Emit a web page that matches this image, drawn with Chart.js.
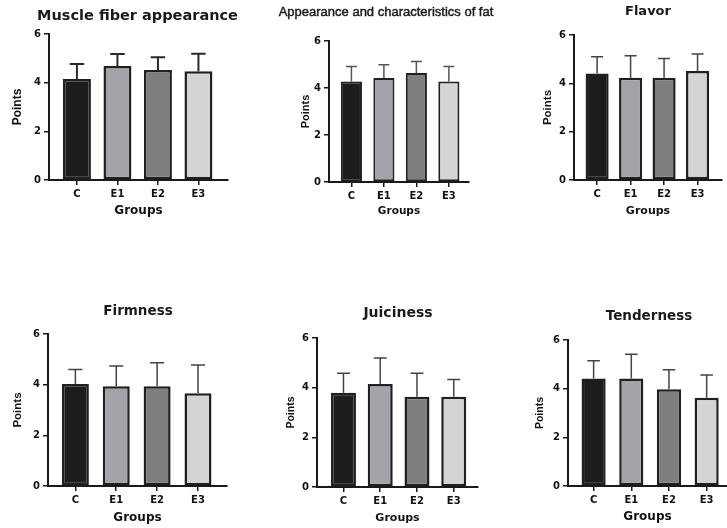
<!DOCTYPE html>
<html>
<head>
<meta charset="utf-8">
<script src="https://cdn.jsdelivr.net/npm/chart.js@4/dist/chart.umd.min.js"></script>
<style>
  html, body { margin: 0; padding: 0; background: #fff; }
  body { width: 727px; height: 528px; position: relative; overflow: hidden; }
  canvas { position: absolute; }
</style>
</head>
<body>
<script>
// categories and axis ticks
const groups = ['C', 'E1', 'E2', 'E3'];
const yTicks = [0, 2, 4, 6];

// means and upper SD
const muscleMean = [4.15, 4.68, 4.52, 4.47];
const muscleSd = [0.62, 0.5, 0.52, 0.72];
const fatMean = [4.28, 4.43, 4.64, 4.28];
const fatSd = [0.64, 0.56, 0.49, 0.64];
const flavorMean = [4.41, 4.23, 4.23, 4.51];
const flavorSd = [0.69, 0.91, 0.8, 0.7];
const firmMean = [4.03, 3.94, 3.94, 3.66];
const firmSd = [0.57, 0.8, 0.93, 1.12];
const juicyMean = [3.8, 4.15, 3.63, 3.63];
const juicySd = [0.78, 1.04, 0.95, 0.7];
const tenderMean = [4.42, 4.42, 3.98, 3.63];
const tenderSd = [0.73, 0.99, 0.8, 0.93];

const barColors = ['#1d1d1d', '#a3a3a9', '#7e7e7e', '#d4d4d4'];
const ink = '#1a1a1a';

const DV = 'DejaVu Sans';
const LS = 'Liberation Sans';

// area = [left, top, right, bottom] of the plot area in page pixels
const panels = [
  { title: 'Muscle fiber appearance', mean: muscleMean, sd: muscleSd,
    area: [49, 34, 228, 180], titleX: 137.5, titleY: 16, pointsX: 18, groupsY: 211,
    range: [-0.69, 3.73], barPct: 0.69, border: 2.5, errColor: '#2b2b2b', errWidth: 2,
    titleFont: 'bold 14.5px "DejaVu Sans"', groupsSize: 12, pointsSize: 12 },
  { title: 'Appearance and characteristics of fat', mean: fatMean, sd: fatSd,
    area: [329, 41, 469, 182], titleX: 386, titleY: 12, pointsX: 305.5, groupsY: 211,
    range: [-0.69, 3.62], barPct: 0.65, border: 2, errColor: '#555', errWidth: 1.5,
    titleFont: '13px "Liberation Sans"', titleStroke: 0.45, groupsSize: 10.5, pointsSize: 11 },
  { title: 'Flavor', mean: flavorMean, sd: flavorSd,
    area: [574, 35, 722, 180], titleX: 648, titleY: 12, pointsX: 548, groupsY: 211,
    range: [-0.69, 3.73], barPct: 0.69, border: 2.5, errColor: '#444', errWidth: 1.5,
    titleFont: 'bold 13px "DejaVu Sans"', groupsSize: 11, pointsSize: 11.5 },
  { title: 'Firmness', mean: firmMean, sd: firmSd,
    area: [48, 334, 227, 486], titleX: 138, titleY: 311, pointsX: 18, groupsY: 518,
    range: [-0.67, 3.71], barPct: 0.66, border: 2.5, errColor: '#444', errWidth: 1.5,
    titleFont: 'bold 13.5px "DejaVu Sans"', groupsSize: 12, pointsSize: 11.5 },
  { title: 'Juiciness', mean: juicyMean, sd: juicySd,
    area: [317, 338, 478, 487], titleX: 398, titleY: 313, pointsX: 291, groupsY: 518,
    range: [-0.72, 3.66], barPct: 0.68, border: 2.5, errColor: '#444', errWidth: 1.5,
    titleFont: 'bold 14px "DejaVu Sans"', groupsSize: 11, pointsSize: 10.5 },
  { title: 'Tenderness', mean: tenderMean, sd: tenderSd,
    area: [568, 340, 727, 486], titleX: 649, titleY: 316, pointsX: 540, groupsY: 517,
    range: [-0.68, 3.54], barPct: 0.64, border: 2.5, errColor: '#444', errWidth: 1.5,
    titleFont: 'bold 13.5px "DejaVu Sans"', groupsSize: 12, pointsSize: 10.5 },
];

// up-only SD whiskers with a cap
const errorBars = {
  id: 'errorBars',
  afterDatasetsDraw(chart, args, opts) {
    const { ctx, scales: { y } } = chart;
    const meta = chart.getDatasetMeta(0);
    ctx.save();
    ctx.strokeStyle = opts.color;
    ctx.lineWidth = opts.width;
    meta.data.forEach((bar, i) => {
      const top = y.getPixelForValue(opts.mean[i] + opts.sd[i]);
      const half = bar.width * 0.26;
      ctx.beginPath();
      ctx.moveTo(bar.x, bar.y);
      ctx.lineTo(bar.x, top);
      ctx.moveTo(bar.x - half, top);
      ctx.lineTo(bar.x + half, top);
      ctx.stroke();
    });
    ctx.restore();
  },
};

const panelTitle = {
  id: 'panelTitle',
  afterDraw(chart, args, opts) {
    const { ctx } = chart;
    ctx.save();
    ctx.font = opts.font;
    ctx.fillStyle = opts.color;
    ctx.textAlign = 'center';
    ctx.textBaseline = 'middle';
    ctx.fillText(opts.text, opts.x, opts.y);
    if (opts.stroke) {
      // the fat title is a touch heavier than regular
      ctx.strokeStyle = opts.color;
      ctx.lineWidth = opts.stroke;
      ctx.strokeText(opts.text, opts.x, opts.y);
    }
    ctx.restore();
  },
};

function renderPanel(p) {
  const [l, t, r, b] = p.area;
  // canvas wide enough for the title on both sides
  const cl = Math.max(0, Math.round(Math.min(p.pointsX - 12, p.titleX - 125)));
  const ct = Math.round(p.titleY - 14);
  const cr = Math.min(727, Math.round(Math.max(r + 4, p.titleX + 125)));
  const cb = Math.round(p.groupsY + 10);

  const canvas = document.createElement('canvas');
  canvas.width = cr - cl;
  canvas.height = cb - ct;
  canvas.style.left = cl + 'px';
  canvas.style.top = ct + 'px';
  document.body.appendChild(canvas);

  const pointsLh = p.pointsSize * 1.2;
  const groupsLh = p.groupsSize * 1.2;
  const tickFont = { family: DV, size: 10, weight: 'bold' };

  return new Chart(canvas, {
    type: 'bar',
    data: {
      datasets: [{
        data: groups.map((g, i) => ({ x: i, y: p.mean[i] })),
        backgroundColor: barColors,
        borderColor: '#202020',
        borderWidth: p.border,
        borderSkipped: false,
        barPercentage: p.barPct,
        categoryPercentage: 1,
      }],
    },
    options: {
      responsive: false,
      animation: false,
      events: [],
      layout: { padding: { top: t - ct, right: cr - r, left: 0, bottom: 0 } },
      scales: {
        x: {
          type: 'linear',
          bounds: 'data',
          offset: false,
          min: p.range[0],
          max: p.range[1],
          afterBuildTicks: (s) => { s.ticks = groups.map((g, i) => ({ value: i })); },
          afterFit: (s) => { s.height = cb - b; },
          grid: { offset: false, drawOnChartArea: false, tickLength: 5, color: ink, lineWidth: 1.5 },
          border: { display: true, color: ink, width: 2 },
          ticks: {
            padding: 3, color: '#111', font: tickFont,
            maxRotation: 0, autoSkip: false,
            callback: (v) => groups[v],
          },
          title: {
            display: true, text: 'Groups', color: '#111',
            font: { family: DV, size: p.groupsSize, weight: 'bold' },
            padding: { top: 0, bottom: 10 - groupsLh / 2 },
          },
        },
        y: {
          min: 0,
          max: 6,
          afterBuildTicks: (s) => { s.ticks = yTicks.map((v) => ({ value: v })); },
          afterFit: (s) => { s.width = l - cl; },
          grid: { drawOnChartArea: false, tickLength: 5, color: ink, lineWidth: 1.5 },
          border: { display: true, color: ink, width: 2 },
          ticks: { padding: 3, color: '#111', font: tickFont },
          title: {
            display: true, text: 'Points', color: '#111',
            font: { family: LS, size: p.pointsSize, weight: 'bold' },
            padding: { top: p.pointsX - cl - pointsLh / 2, bottom: 0 },
          },
        },
      },
      plugins: {
        legend: { display: false },
        tooltip: { enabled: false },
        errorBars: { mean: p.mean, sd: p.sd, color: p.errColor, width: p.errWidth },
        panelTitle: {
          text: p.title, font: p.titleFont, color: '#1a1a1a', stroke: p.titleStroke || 0,
          x: p.titleX - cl, y: p.titleY - ct,
        },
      },
    },
    plugins: [errorBars, panelTitle],
  });
}

panels.forEach(renderPanel);
</script>
</body>
</html>
